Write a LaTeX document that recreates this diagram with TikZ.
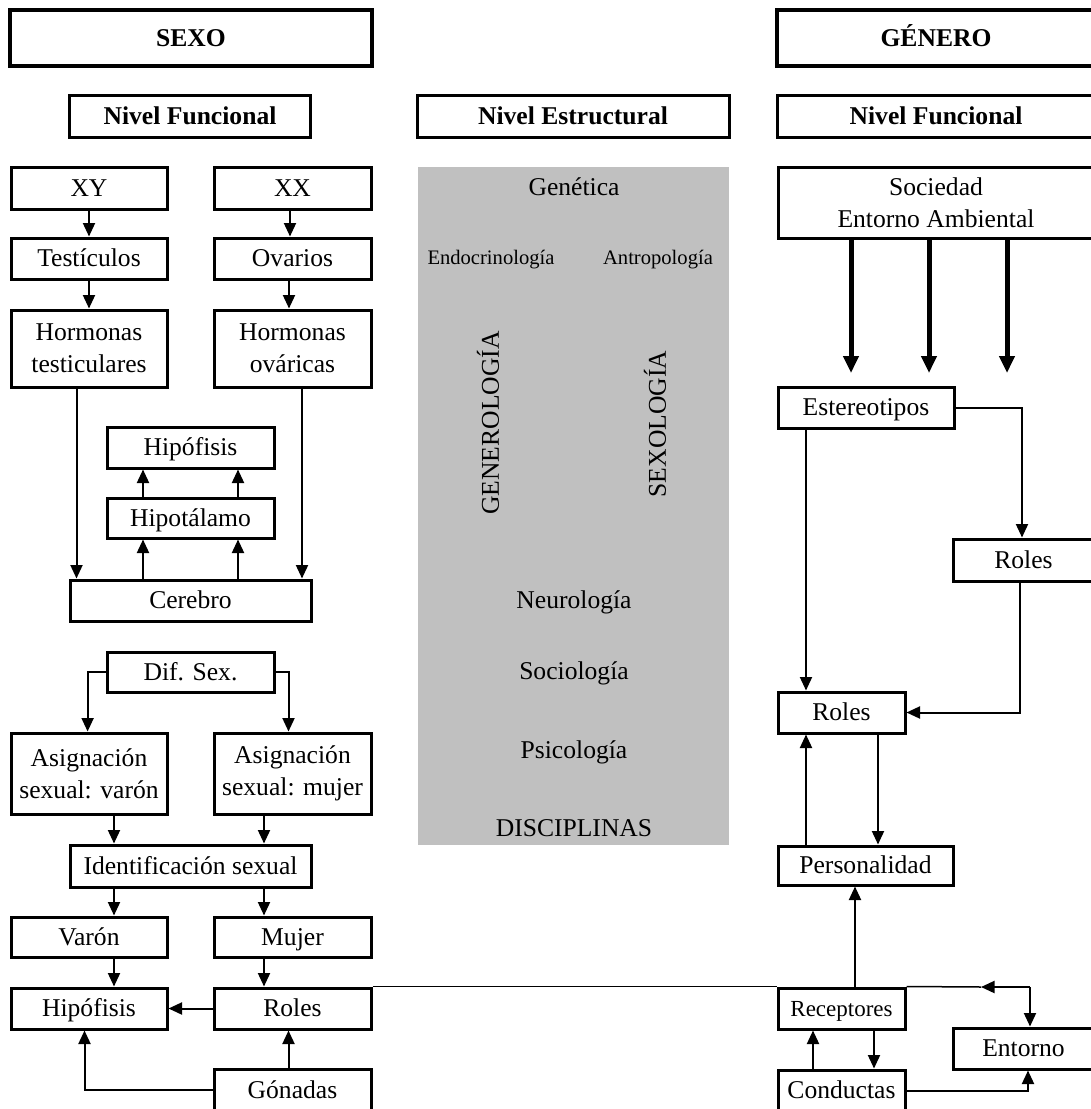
\documentclass[tikz,border=0pt]{standalone}
\usepackage{fontspec}
\setmainfont{Liberation Serif}
\usetikzlibrary{arrows.meta}
\definecolor{panel}{RGB}{192,192,192}
\newcommand\fsmain{\fontsize{25.6}{32}\selectfont}
\newcommand\fssmall{\fontsize{20.6}{25}\selectfont}
\newcommand\fsrec{\fontsize{23}{28}\selectfont}
\begin{document}
\begin{tikzpicture}[x=1pt,y=-1pt,
  box/.style={draw, line width=3pt, inner sep=0pt, align=center, font=\fsmain, fill=white, text height=19.6pt, text depth=2.7pt},
  two/.style={text height=, text depth=},
  ttl/.style={box, line width=4pt, font=\fsmain\bfseries},
  lvl/.style={box, font=\fsmain\bfseries},
  lbl/.style={inner sep=0pt, font=\fsmain},
  arr/.style={-{Triangle[length=13.5pt,width=12pt]}, line width=2pt},
  thk/.style={-{Triangle[length=17pt,width=15pt]}, line width=5pt},
  thinln/.style={line width=1.5pt}]
\useasboundingbox (0,0) rectangle (1091,1109);
\clip (0,0) rectangle (1091,1109);

% headers
\node[ttl, minimum width=362pt, minimum height=56pt] (sexo) at (191,38) {SEXO};
\node[ttl, minimum width=318pt, minimum height=56pt] (genero) at (936,38) {GÉNERO};
\node[lvl, minimum width=241pt, minimum height=42pt] (nfl) at (190,116) {Nivel Funcional};
\node[lvl, minimum width=312pt, minimum height=42pt] (nest) at (573,116) {Nivel Estructural};
\node[lvl, minimum width=318pt, minimum height=42pt] (nfr) at (936,116) {Nivel Funcional};

% gray panel
\fill[panel] (418,167) rectangle (729,845);
\node[lbl] (gent) at (574,187) {Genética};
\node[lbl, font=\fssmall] (endo) at (491,260) {Endocrinología};
\node[lbl, font=\fssmall] (antr) at (658,260) {Antropología};
\node[lbl, rotate=90] (gnro) at (488,423) {GENEROLOGÍA};
\node[lbl, rotate=90] (sxlg) at (655,424) {SEXOLOGÍA};
\node[lbl] (neur) at (574,602) {Neurología};
\node[lbl] (soci) at (574,673) {Sociología};
\node[lbl] (psic) at (574,752) {Psicología};
\node[lbl] (disc) at (574,828) {DISCIPLINAS};

% left column
\node[box, minimum width=156pt, minimum height=42pt] (xy) at (89,188) {XY};
\node[box, minimum width=157pt, minimum height=42pt] (xx) at (292.5,188) {XX};
\node[box, minimum width=156pt, minimum height=41pt] (test) at (89,258.5) {Testículos};
\node[box, minimum width=157pt, minimum height=41pt] (ova) at (292.5,258.5) {Ovarios};
\node[box, two, minimum width=156pt, minimum height=77pt] (htest) at (89,348.5) {Hormonas\\testiculares};
\node[box, two, minimum width=157pt, minimum height=77pt] (hova) at (292.5,348.5) {Hormonas\\ováricas};
\node[box, minimum width=167pt, minimum height=41pt] (hip1) at (190.5,447.5) {Hipófisis};
\node[box, minimum width=167pt, minimum height=40pt] (hipot) at (190.5,518) {Hipotálamo};
\node[box, minimum width=241pt, minimum height=41pt] (cer) at (190.5,600.5) {Cerebro};
\node[box, minimum width=167pt, minimum height=40pt] (dif) at (190.5,672) {Dif. Sex.};
\node[box, two, minimum width=156pt, minimum height=81pt] (asv) at (89,773.5) {Asignación\\sexual: varón};
\node[box, two, minimum width=157pt, minimum height=81pt] (asm) at (292.5,773.5) {Asignación\\sexual: mujer};
\node[box, minimum width=241pt, minimum height=42pt] (ident) at (190.5,866) {Identificación sexual};
\node[box, minimum width=156pt, minimum height=40pt] (var) at (89,937) {Varón};
\node[box, minimum width=157pt, minimum height=40pt] (muj) at (292.5,937) {Mujer};
\node[box, minimum width=156pt, minimum height=41pt] (hip2) at (89,1008.5) {Hipófisis};
\node[box, minimum width=157pt, minimum height=41pt] (rol) at (292.5,1008.5) {Roles};
\node[box, minimum width=157pt, minimum height=42pt] (gon) at (292.5,1090) {Gónadas};

% right column
\node[box, two, minimum width=316pt, minimum height=71pt] (soc) at (936,202.5) {Sociedad\\Entorno Ambiental};
\node[box, minimum width=176pt, minimum height=41pt] (est) at (866,407.5) {Estereotipos};
\node[box, minimum width=141pt, minimum height=42pt] (rolr) at (1023.5,560) {Roles};
\node[box, minimum width=127pt, minimum height=41pt] (rolm) at (841.5,712.5) {Roles};
\node[box, minimum width=175pt, minimum height=39pt] (pers) at (865.5,865.5) {Personalidad};
\node[box, minimum width=127pt, minimum height=41pt, font=\fsrec] (rec) at (841.5,1008.5) {Receptores};
\node[box, minimum width=127pt, minimum height=41pt] (con) at (841.5,1090.5) {Conductas};
\node[box, minimum width=141pt, minimum height=41pt] (ent) at (1023.5,1048.5) {Entorno};

% left connectors
\draw[arr] (xy.south -| 89,0) -- (test.north -| 89,0);
\draw[arr] (xx.south -| 290,0) -- (ova.north -| 290,0);
\draw[arr] (test.south -| 89,0) -- (htest.north -| 89,0);
\draw[arr] (ova.south -| 289,0) -- (hova.north -| 289,0);
\draw[arr] (htest.south -| 76.5,0) -- (cer.north -| 76.5,0);
\draw[arr] (hova.south -| 302,0) -- (cer.north -| 302,0);
\draw[arr] (cer.north -| 143,0) -- (hipot.south -| 143,0);
\draw[arr] (cer.north -| 238,0) -- (hipot.south -| 238,0);
\draw[arr] (hipot.north -| 143,0) -- (hip1.south -| 143,0);
\draw[arr] (hipot.north -| 238,0) -- (hip1.south -| 238,0);
\draw[arr] (dif.west) -| (asv.north -| 87.6,0);
\draw[arr] (dif.east) -| (asm.north -| 288.5,0);
\draw[arr] (asv.south -| 114,0) -- (ident.north -| 114,0);
\draw[arr] (asm.south -| 264,0) -- (ident.north -| 264,0);
\draw[arr] (ident.south -| 114,0) -- (var.north -| 114,0);
\draw[arr] (ident.south -| 264,0) -- (muj.north -| 264,0);
\draw[arr] (var.south -| 114,0) -- (hip2.north -| 114,0);
\draw[arr] (muj.south -| 264,0) -- (rol.north -| 264,0);
\draw[arr] (rol.west) -- (hip2.east);
\draw[arr] (gon.north -| 288.5,0) -- (rol.south -| 288.5,0);
\draw[arr] (gon.west) -| (hip2.south -| 84.5,0);

% right connectors
\coordinate (t1) at (851,373);
\coordinate (t2) at (929,373);
\coordinate (t3) at (1007,373);
\draw[thk] (soc.south -| t1) -- (t1);
\draw[thk] (soc.south -| t2) -- (t2);
\draw[thk] (soc.south -| t3) -- (t3);
\draw[arr] (est.east) -| (rolr.north -| 1022,0);
\draw[arr] (est.south -| 806,0) -- (rolm.north -| 806,0);
\draw[arr] (rolr.south -| 1020,0) |- (rolm.east);
\draw[arr] (rolm.south -| 878,0) -- (pers.north -| 878,0);
\draw[arr] (pers.north -| 806,0) -- (rolm.south -| 806,0);
\draw[arr] (rec.north -| 855,0) -- (pers.south -| 855,0);
\draw[arr] (rec.south -| 874,0) -- (con.north -| 874,0);
\draw[arr] (con.north -| 813,0) -- (rec.south -| 813,0);
\draw[arr] (con.east) -| (ent.south -| 1028,0);

% long line and entorno loop
\coordinate (cEnt) at (1030,987);
\coordinate (tipE) at (981,987);
\draw[thinln] (rol.north east) -- (rec.north west);
\draw[thinln] (rec.north east) -- (tipE);
\draw[arr] (cEnt) -- (tipE);
\draw[arr] (cEnt) -- (ent.north -| cEnt);
\end{tikzpicture}
\end{document}
